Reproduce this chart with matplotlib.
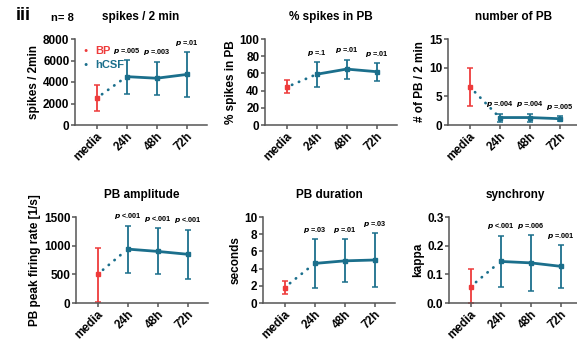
import numpy as np
import matplotlib.pyplot as plt

plt.rcParams['font.family'] = ['Liberation Sans', 'DejaVu Sans']
plt.rcParams['font.weight'] = 'bold'
plt.rcParams['axes.titleweight'] = 'bold'
plt.rcParams['axes.labelweight'] = 'bold'
plt.rcParams['mathtext.default'] = 'it'

categories = ['media', '24h', '48h', '72h']

titles = ['spikes / 2 min', '% spikes in PB', 'number of PB',
          'PB amplitude', 'PB duration', 'synchrony']
ylabels = ['spikes / 2min', '% spikes in PB', '# of PB / 2 min',
           'PB peak firing rate [1/s]', 'seconds', 'kappa']

spikes_mean = [2500, 4500, 4350, 4700]
spikes_lo = [1300, 2900, 2800, 2650]
spikes_hi = [3700, 6050, 5900, 6750]
spikes_p = ['=.005', '=.003', '=.01']

pct_mean = [44, 59, 65, 62]
pct_lo = [37, 44, 54, 51]
pct_hi = [52, 73, 76, 72]
pct_p = ['=.1', '=.01', '=.01']

npb_mean = [6.7, 1.3, 1.3, 1.1]
npb_lo = [3.3, 0.6, 0.6, 0.7]
npb_hi = [10.0, 2.0, 2.0, 1.6]
npb_p = ['=.004', '=.004', '=.005']

amp_mean = [500, 940, 900, 850]
amp_lo = [20, 530, 500, 420]
amp_hi = [960, 1350, 1300, 1280]
amp_p = ['<.001', '<.001', '<.001']

dur_mean = [1.8, 4.6, 4.9, 5.0]
dur_lo = [1.0, 1.8, 2.4, 1.9]
dur_hi = [2.6, 7.4, 7.4, 8.1]
dur_p = ['=.03', '=.01', '=.03']

syn_mean = [0.057, 0.145, 0.14, 0.128]
syn_lo = [0.0, 0.057, 0.043, 0.053]
syn_hi = [0.12, 0.235, 0.237, 0.203]
syn_p = ['<.001', '=.006', '=.001']

panels = [
    (spikes_mean, spikes_lo, spikes_hi, spikes_p, 8000, [0, 2000, 4000, 6000, 8000], '{:.0f}'),
    (pct_mean, pct_lo, pct_hi, pct_p, 100, [0, 20, 40, 60, 80, 100], '{:.0f}'),
    (npb_mean, npb_lo, npb_hi, npb_p, 15, [0, 5, 10, 15], '{:.0f}'),
    (amp_mean, amp_lo, amp_hi, amp_p, 1500, [0, 500, 1000, 1500], '{:.0f}'),
    (dur_mean, dur_lo, dur_hi, dur_p, 10, [0, 2, 4, 6, 8, 10], '{:.0f}'),
    (syn_mean, syn_lo, syn_hi, syn_p, 0.3, [0, 0.1, 0.2, 0.3], '{:.1f}'),
]

red = '#ee3b3b'
blue = '#1b6f8c'
W, H = 577, 345

# axes boxes in pixels: left, top, bottom
boxes = [(75, 39, 125), (265, 39, 125), (448, 39, 125),
         (76, 217, 303), (263, 217, 303), (449, 217, 303)]
axw = 132

fig = plt.figure(figsize=(W / 100, H / 100), dpi=100)

for i, (mean, lo, hi, pvals, top, yt, fmt) in enumerate(panels):
    left, t, b = boxes[i]
    ax = fig.add_axes([left / W, 1 - b / H, axw / W, (b - t) / H])
    x = np.arange(len(categories))
    mean = np.array(mean)
    err = [mean - np.array(lo), np.array(hi) - mean]

    # media (BP)
    ax.errorbar(x[0], mean[0], yerr=[[err[0][0]], [err[1][0]]], color=red,
                marker='s', ms=3, capsize=2.5, elinewidth=1.3, capthick=1.1)
    # hCSF
    ax.errorbar(x[1:], mean[1:], yerr=[err[0][1:], err[1][1:]], color=blue,
                marker='s', ms=3, capsize=2.5, lw=2, elinewidth=1.3,
                capthick=1.1)
    # dotted connection
    xs = np.linspace(x[0] + 0.18, x[1] - 0.12, 2)
    ys = mean[0] + (mean[1] - mean[0]) * (xs - x[0])
    ax.plot(xs, ys, color=blue, lw=2, ls=(0, (0.1, 2.6)),
            dash_capstyle='round')

    for k, p in enumerate(pvals):
        ax.text(x[k + 1], hi[k + 1] + top * 0.05, r'$p$ ' + p,
                ha='center', va='bottom', fontsize=5.3)

    ax.set_xlim(-0.72, 3.68)
    ax.set_ylim(0, top)
    ax.set_yticks(yt)
    ax.set_yticklabels([fmt.format(v) for v in yt], fontsize=8.5)
    ax.set_xticks(x)
    ax.set_xticklabels(categories, rotation=45, ha='right',
                       rotation_mode='anchor', fontsize=8.5)
    ax.set_ylabel(ylabels[i], fontsize=8.5, labelpad=2)
    for s in ['top', 'right']:
        ax.spines[s].set_visible(False)
    for s in ['left', 'bottom']:
        ax.spines[s].set_color('#555555')
        ax.spines[s].set_linewidth(1.1)
    ax.tick_params(colors='#555555', width=1.1, length=3, pad=1)
    ax.tick_params(labelcolor='black')
    ax.set_title(titles[i], fontsize=8.5, pad=14)

fig.text(16 / W, 1 - 16 / H, 'iii', fontsize=13, weight='bold', va='center')
fig.text(51 / W, 1 - 18 / H, 'n= 8', fontsize=8, weight='bold', va='center')

fig.text(86 / W, 1 - 51 / H, '\u25cf', color=red, fontsize=5, va='center', ha='center')
fig.text(95 / W, 1 - 51 / H, 'BP', color=red, fontsize=8, va='center')
fig.text(86 / W, 1 - 65 / H, '\u25cf', color=blue, fontsize=5, va='center', ha='center')
fig.text(95 / W, 1 - 65 / H, 'hCSF', color=blue, fontsize=8, va='center')

fig.savefig('out.png', dpi=100)
